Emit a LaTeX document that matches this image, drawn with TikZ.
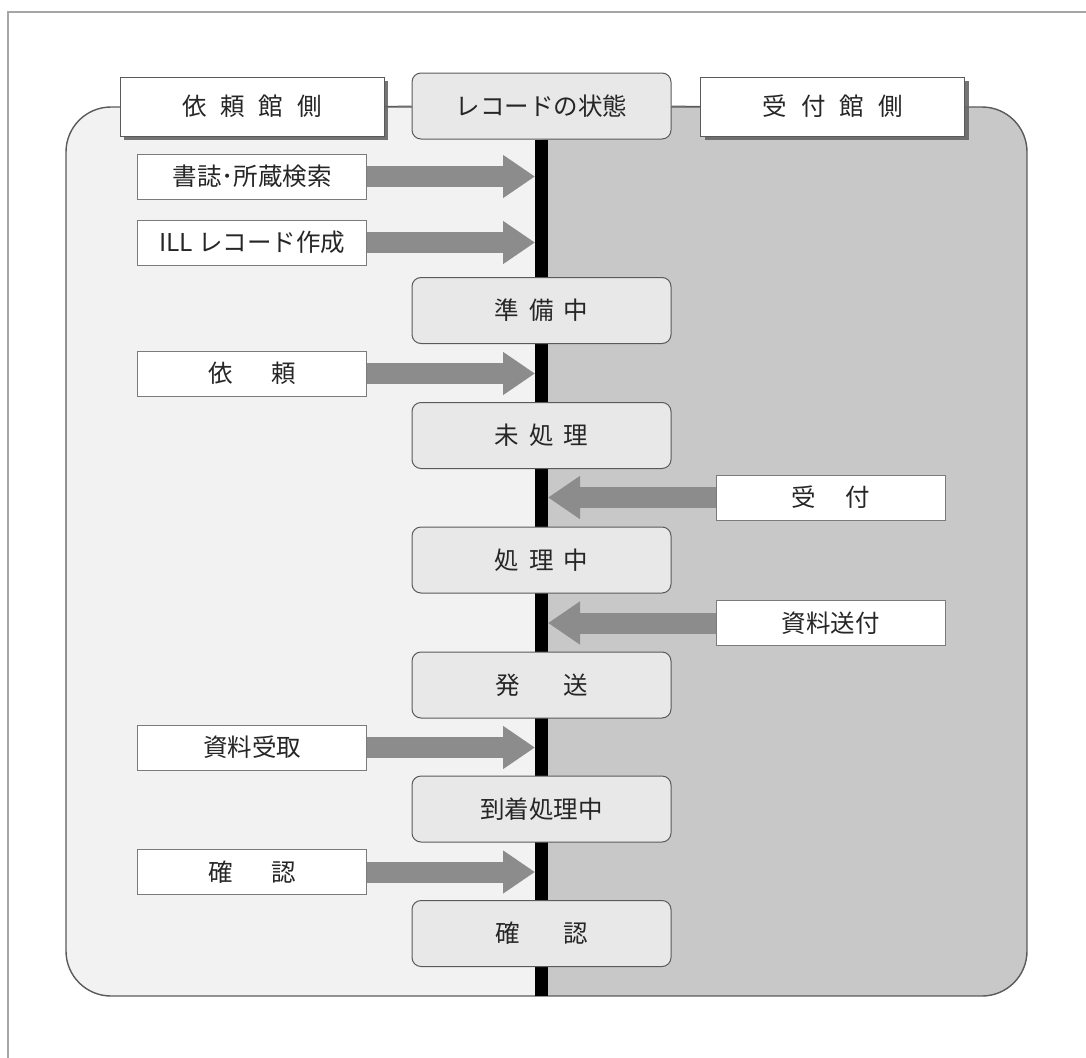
\documentclass[tikz,border=0pt]{standalone}
\usepackage{fontspec}
\setmainfont{Noto Sans CJK JP}
\usetikzlibrary{shadows,arrows.meta}
\definecolor{leftbg}{HTML}{F2F2F2}
\definecolor{rightbg}{HTML}{C8C8C8}
\definecolor{statebg}{HTML}{E8E8E8}
\definecolor{arrowgray}{HTML}{8C8C8C}
\definecolor{framegray}{HTML}{A6A6A6}
\definecolor{edgegray}{HTML}{5A5A5A}
\newcommand{\gap}[1]{\hspace{#1pt}}
\pgfdeclarelayer{bg}
\pgfsetlayers{bg,main}
\begin{document}
\begin{tikzpicture}[x=1pt,y=-1pt,
  txt/.style={font=\fontsize{24.5}{28}\selectfont, text=black!85},
  sidehead/.style={txt, draw=edgegray, line width=1pt, fill=white, minimum width=264pt, minimum height=59pt, inner sep=0pt,
    drop shadow={shadow xshift=4pt, shadow yshift=-4pt, fill=black!60, opacity=0.9}},
  statebox/.style={txt, draw=edgegray, line width=1pt, fill=statebg, rounded corners=9pt, minimum width=259pt, minimum height=66pt, inner sep=0pt},
  actbox/.style={txt, draw=edgegray!80, line width=1pt, fill=white, minimum width=229pt, minimum height=45pt, inner sep=0pt},
  flow/.style={line width=21pt, arrowgray, -{Triangle[length=32pt 0 0, width=41pt 0 0]}},
  spine/.style={line width=13pt, black},
  panelfill/.style={rounded corners=45pt}
]
\useasboundingbox (0,0) rectangle (1086,1057);
% outer frame (only top and left visible)
\draw[framegray, line width=1.5pt] (8,1070) -- (8,12) -- (1100,12);

% coordinates
\coordinate (pTL) at (66,107);
\coordinate (pBR) at (1027,996);
\coordinate (mid) at (541.5,107);
\coordinate (spL) at (535,500);
\coordinate (spR) at (548,500);

% header
\node[sidehead] (hl) at (252,106.5) {依\gap{14}頼\gap{14}館\gap{14}側};
\node[statebox] (hs) at (541.5,106) {レコードの状態};
\node[sidehead] (hr) at (832.5,106.5) {受\gap{14}付\gap{14}館\gap{14}側};

% states
\node[statebox] (s1) at (541.5,310.5) {準\gap{10}備\gap{10}中};
\node[statebox] (s2) at (541.5,435.5) {未\gap{10}処\gap{10}理};
\node[statebox] (s3) at (541.5,560) {処\gap{10}理\gap{10}中};
\node[statebox] (s4) at (541.5,685) {発\gap{44}送};
\node[statebox] (s5) at (541.5,809) {到着処理中};
\node[statebox] (s6) at (541.5,933.5) {確\gap{44}認};

% left actions
\node[actbox] (a1) at (252.25,176.5) {書誌･所蔵検索};
\node[actbox] (a2) at (252.25,242.5) {ILL レコード作成};
\node[actbox] (a3) at (252.25,373.5) {依\gap{38}頼};
\node[actbox] (a4) at (252.25,747.5) {資料受取};
\node[actbox] (a5) at (252.25,872) {確\gap{38}認};

% right actions
\node[actbox] (r1) at (830.5,497.5) {受\gap{30}付};
\node[actbox] (r2) at (830.5,623) {資料送付};

\begin{pgfonlayer}{bg}
  \begin{scope}
    \clip[panelfill] (pTL) rectangle (pBR);
    \fill[leftbg] (pTL) rectangle (mid |- pBR);
    \fill[rightbg] (mid) rectangle (pBR);
  \end{scope}
  \draw[edgegray, line width=1.4pt, panelfill] (pTL) rectangle (pBR);
  \draw[edgegray, line width=1pt] (hl.east) -- (hs.west);
  \draw[edgegray, line width=1pt] (hs.east) -- (hr.west);
  \draw[spine] (hs.south) -- (hs.south |- pBR);
  \draw[flow] (a1.east) -- (a1.east -| spL);
  \draw[flow] (a2.east) -- (a2.east -| spL);
  \draw[flow] (a3.east) -- (a3.east -| spL);
  \draw[flow] (a4.east) -- (a4.east -| spL);
  \draw[flow] (a5.east) -- (a5.east -| spL);
  \draw[flow] (r1.west) -- (r1.west -| spR);
  \draw[flow] (r2.west) -- (r2.west -| spR);
\end{pgfonlayer}
\end{tikzpicture}
\end{document}
